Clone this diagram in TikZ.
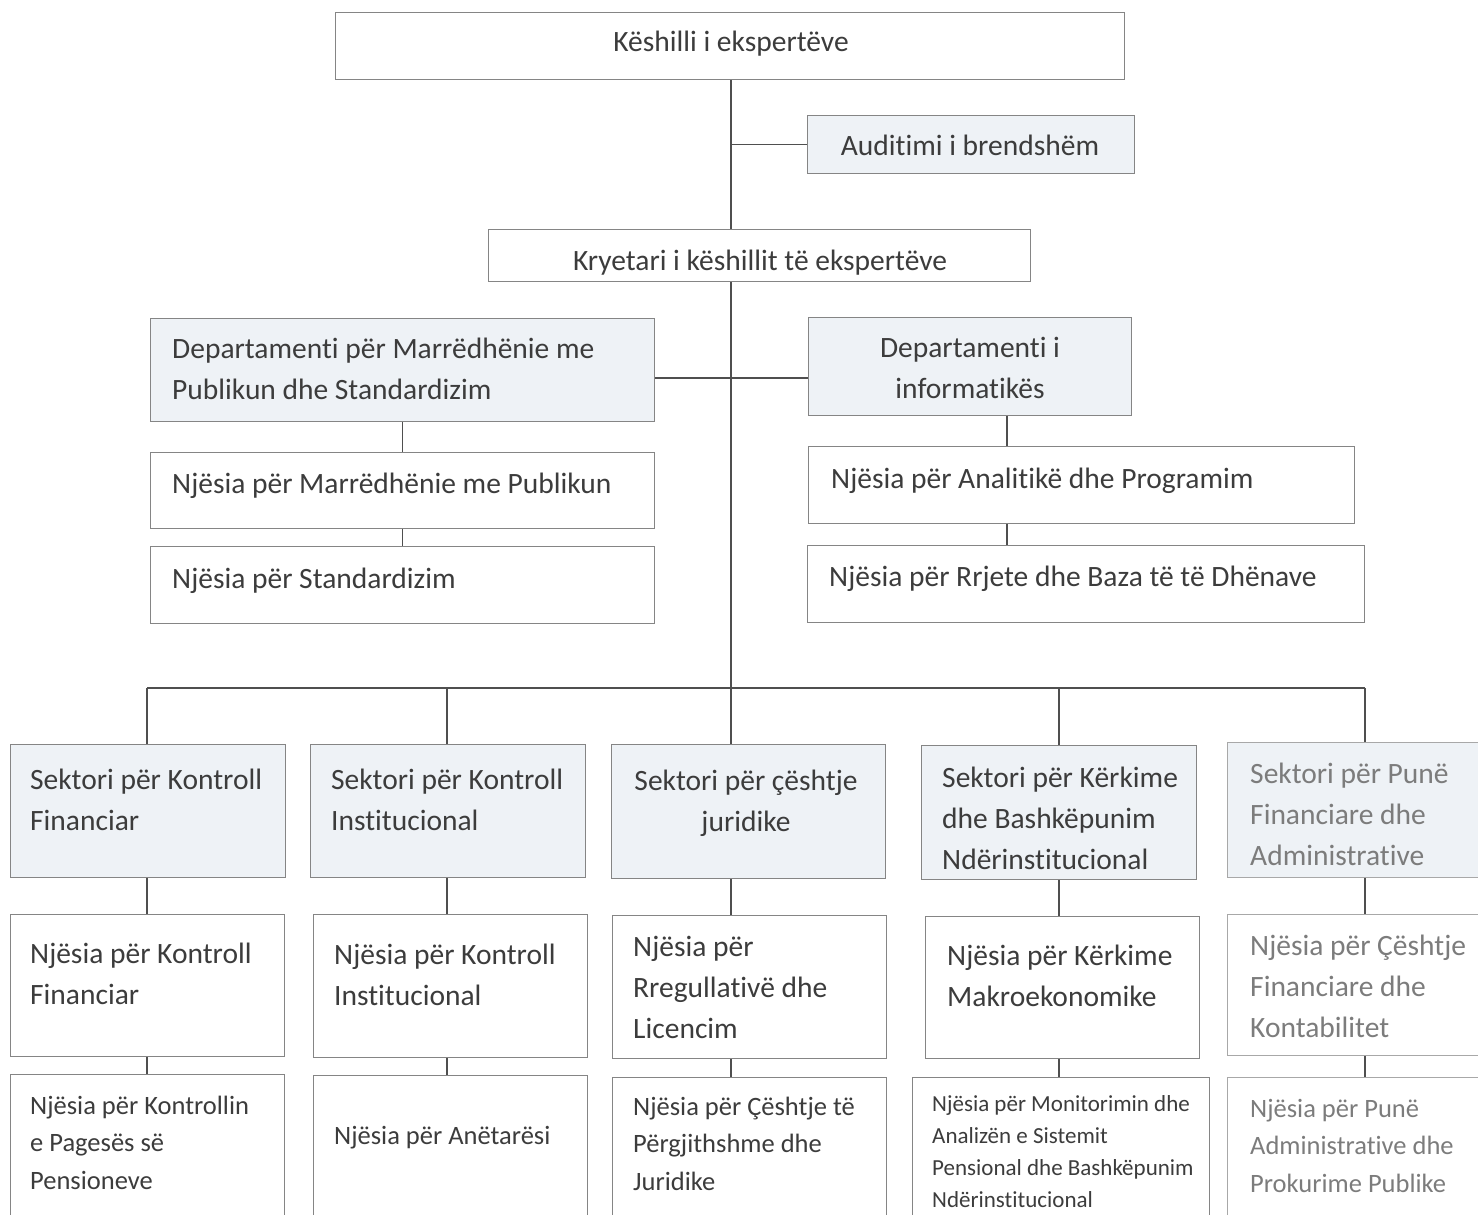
\documentclass[tikz,border=0pt]{standalone}
\usepackage{fontspec}
\setmainfont{Carlito}[Ligatures=NoCommon]
\usepackage{tikz}
\definecolor{linecol}{HTML}{4F4F4F}
\definecolor{boxcol}{HTML}{858585}
\definecolor{fadebox}{HTML}{A8A8A8}
\definecolor{fillcol}{HTML}{EEF2F6}
\definecolor{txtcol}{HTML}{3C3C3C}
\definecolor{fadetxt}{HTML}{7C7C7C}

\begin{document}
\begin{tikzpicture}[x=1pt,y=-1pt,
  orgbox/.style={draw=boxcol,line width=1.4pt,anchor=north west,inner sep=0pt},
  shaded/.style={orgbox,fill=fillcol},
  lbl/.style={inner sep=0pt,anchor=base west,align=left,text=txtcol,font=\fontsize{29.5}{41}\selectfont},
  clbl/.style={lbl,anchor=base,align=center},
  smalllbl/.style={lbl,font=\fontsize{26.5}{37.5}\selectfont},
  conn/.style={draw=linecol,line width=1.5pt}]
\useasboundingbox (0,0) rectangle (1478,1215);
\clip (0,0) rectangle (1478,1215);

\node[orgbox,minimum width=789pt,minimum height=67pt] (top) at (335,12) {};
\node[shaded,minimum width=327pt,minimum height=58pt] (aud) at (807,115) {};
\node[orgbox,minimum width=542pt,minimum height=52pt] (kry) at (488,229) {};
\node[shaded,minimum width=504pt,minimum height=103pt] (dl) at (150,318) {};
\node[shaded,minimum width=323pt,minimum height=98pt] (dr) at (808,317) {};
\node[orgbox,minimum width=504pt,minimum height=76pt] (npub) at (150,452) {};
\node[orgbox,minimum width=504pt,minimum height=77pt] (nstd) at (150,546) {};
\node[orgbox,minimum width=546pt,minimum height=77pt] (nana) at (808,446) {};
\node[orgbox,minimum width=557pt,minimum height=77pt] (nrrj) at (807,545) {};

\node[shaded,minimum width=275pt,minimum height=133pt] (s1) at (10,744) {};
\node[shaded,minimum width=275pt,minimum height=133pt] (s2) at (310,744) {};
\node[shaded,minimum width=274pt,minimum height=134pt] (s3) at (611,744) {};
\node[shaded,minimum width=275pt,minimum height=134pt] (s4) at (921,745) {};
\node[shaded,draw=fadebox,minimum width=260pt,minimum height=135pt] (s5) at (1227,742) {};
\node[orgbox,minimum width=274pt,minimum height=142pt] (u1) at (10,914) {};
\node[orgbox,minimum width=274pt,minimum height=143pt] (u2) at (313,914) {};
\node[orgbox,minimum width=274pt,minimum height=143pt] (u3) at (612,915) {};
\node[orgbox,minimum width=274pt,minimum height=142pt] (u4) at (925,916) {};
\node[orgbox,draw=fadebox,minimum width=260pt,minimum height=141pt] (u5) at (1227,914) {};
\node[orgbox,minimum width=274pt,minimum height=160pt] (v1) at (10,1074) {};
\node[orgbox,minimum width=274pt,minimum height=160pt] (v2) at (313,1075) {};
\node[orgbox,minimum width=274pt,minimum height=160pt] (v3) at (612,1077) {};
\node[orgbox,minimum width=297pt,minimum height=160pt] (v4) at (912,1077) {};
\node[orgbox,draw=fadebox,minimum width=260pt,minimum height=160pt] (v5) at (1227,1077) {};

% labels: base = baseline of the last line
\node[clbl] (topt) at (731,52) {Këshilli i ekspertëve};
\node[clbl] (audt) at (970,155) {Auditimi i brendshëm};
\node[clbl] (kryt) at (760,270) {Kryetari i këshillit të ekspertëve};
\node[lbl] (dlt) at (172,399) {Departamenti për Marrëdhënie me\\Publikun dhe Standardizim};
\node[clbl] (drt) at (970,398) {Departamenti i\\informatikës};
\node[lbl] (npubt) at (172,493) {Njësia për Marrëdhënie me Publikun};
\node[lbl] (nstdt) at (172,588) {Njësia për Standardizim};
\node[lbl] (nanat) at (831,488) {Njësia për Analitikë dhe Programim};
\node[lbl] (nrrjt) at (829,586) {Njësia për Rrjete dhe Baza të të Dhënave};

\node[lbl] (s1t) at (30,830) {Sektori për Kontroll\\Financiar};
\node[lbl] (s2t) at (331,830) {Sektori për Kontroll\\Institucional};
\node[clbl] (s3t) at (746,831) {Sektori për çështje\\juridike};
\node[lbl] (s4t) at (942,869) {Sektori për Kërkime\\dhe Bashkëpunim\\Ndërinstitucional};
\node[lbl,text=fadetxt] (s5t) at (1250,865) {Sektori për Punë\\Financiare dhe\\Administrative};
\node[lbl] (u1t) at (30,1004) {Njësia për Kontroll\\Financiar};
\node[lbl] (u2t) at (334,1005) {Njësia për Kontroll\\Institucional};
\node[lbl] (u3t) at (633,1038) {Njësia për\\Rregullativë dhe\\Licencim};
\node[lbl] (u4t) at (947,1006) {Njësia për Kërkime\\Makroekonomike};
\node[lbl,text=fadetxt] (u5t) at (1250,1037) {Njësia për Çështje\\Financiare dhe\\Kontabilitet};
\node[smalllbl] (v1t) at (30,1189) {Njësia për Kontrollin\\e Pagesës së\\Pensioneve};
\node[smalllbl] (v2t) at (334,1144) {Njësia për Anëtarësi};
\node[smalllbl] (v3t) at (633,1190) {Njësia për Çështje të\\Përgjithshme dhe\\Juridike};
\node[lbl,font=\fontsize{23}{31.7}\selectfont] (v4t) at (932,1207) {Njësia për Monitorimin dhe\\Analizën e Sistemit\\Pensional dhe Bashkëpunim\\Ndërinstitucional};
\node[smalllbl,text=fadetxt] (v5t) at (1250,1192) {Njësia për Punë\\Administrative dhe\\Prokurime Publike};

\coordinate (b1) at (147,688);
\coordinate (b2) at (447,688);
\coordinate (b3) at (731,688);
\coordinate (b4) at (1059,688);
\coordinate (b5) at (1365,688);
\coordinate (dj) at (731,378);
\coordinate (rj) at (1007,430);

\draw[conn] (top.south -| b3) -- (kry.north -| b3);
\draw[conn] (aud.west) -- (aud.west -| b3);
\draw[conn] (kry.south -| b3) -- (b3);
\draw[conn] (dl.east |- dj) -- (dr.west |- dj);
\draw[conn] (dl.south) -- (npub.north);
\draw[conn] (npub.south) -- (nstd.north);
\draw[conn] (dr.south -| rj) -- (nana.north -| rj);
\draw[conn] (nana.south -| rj) -- (nrrj.north -| rj);
\draw[conn] (b1) -- (b5);
\foreach \i in {1,...,5}{
  \draw[conn] (b\i) -- (s\i.north -| b\i);
  \draw[conn] (s\i.south -| b\i) -- (u\i.north -| b\i);
  \draw[conn] (u\i.south -| b\i) -- (v\i.north -| b\i);
}
\end{tikzpicture}
\end{document}
